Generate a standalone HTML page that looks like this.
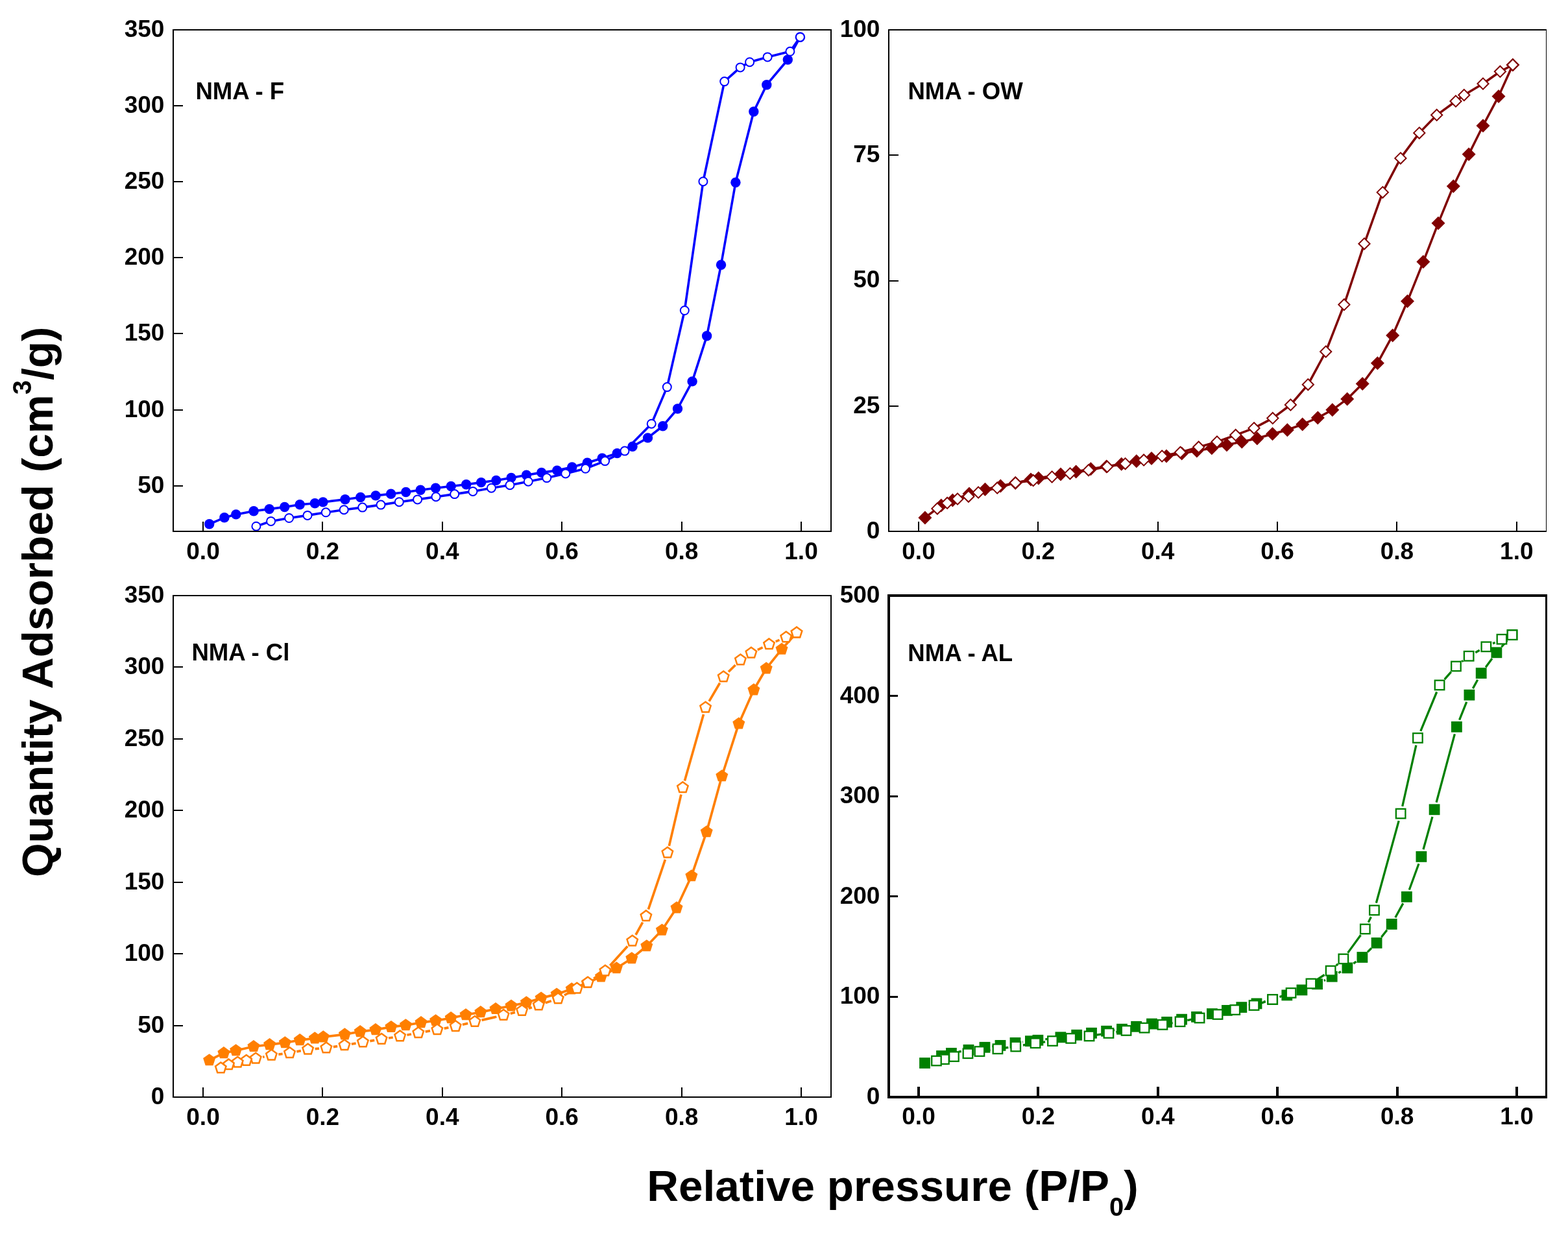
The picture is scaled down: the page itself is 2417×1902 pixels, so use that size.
<!DOCTYPE html><html><head><meta charset="utf-8"><title>Nitrogen adsorption isotherms</title><style>html,body{margin:0;padding:0;background:#fff;overflow:hidden;}svg{display:block;}text{font-family:'Liberation Sans', Arial, Helvetica, sans-serif;font-weight:bold;fill:#000;}</style></head><body>
<svg width="2417" height="1902" viewBox="0 0 2417 1902">
<rect width="2417" height="1902" fill="#fff"/>
<defs><clipPath id="c1"><rect x="268" y="47" width="1012" height="771"/></clipPath><clipPath id="c2"><rect x="1371" y="47" width="1011" height="771"/></clipPath><clipPath id="c3"><rect x="268" y="919" width="1012" height="771"/></clipPath><clipPath id="c4"><rect x="1372" y="920" width="1010" height="769"/></clipPath></defs>
<g fill="#000">
<rect x="266" y="45" width="2" height="775"/>
<rect x="1280" y="45" width="2" height="775"/>
<rect x="266" y="45" width="1016" height="2"/>
<rect x="266" y="818" width="1016" height="2"/>
<rect x="312" y="804" width="2" height="14"/>
<rect x="496" y="804" width="2" height="14"/>
<rect x="681" y="804" width="2" height="14"/>
<rect x="865" y="804" width="2" height="14"/>
<rect x="1050" y="804" width="2" height="14"/>
<rect x="1234" y="804" width="2" height="14"/>
<rect x="268" y="748" width="14" height="2"/>
<rect x="268" y="631" width="14" height="2"/>
<rect x="268" y="513" width="14" height="2"/>
<rect x="268" y="396" width="14" height="2"/>
<rect x="268" y="279" width="14" height="2"/>
<rect x="268" y="162" width="14" height="2"/>
</g>
<text x="313.0" y="861.5" font-size="37" text-anchor="middle">0.0</text>
<text x="497.4" y="861.5" font-size="37" text-anchor="middle">0.2</text>
<text x="681.8" y="861.5" font-size="37" text-anchor="middle">0.4</text>
<text x="866.2" y="861.5" font-size="37" text-anchor="middle">0.6</text>
<text x="1050.6" y="861.5" font-size="37" text-anchor="middle">0.8</text>
<text x="1235.0" y="861.5" font-size="37" text-anchor="middle">1.0</text>
<text x="253.4" y="759.6" font-size="37" text-anchor="end">50</text>
<text x="253.4" y="642.5" font-size="37" text-anchor="end">100</text>
<text x="253.4" y="525.4" font-size="37" text-anchor="end">150</text>
<text x="253.4" y="408.3" font-size="37" text-anchor="end">200</text>
<text x="253.4" y="291.1" font-size="37" text-anchor="end">250</text>
<text x="253.4" y="174.0" font-size="37" text-anchor="end">300</text>
<text x="253.4" y="56.9" font-size="37" text-anchor="end">350</text>
<text x="301.4" y="152.7" font-size="36.6">NMA - F</text>
<g fill="#000">
<rect x="1369" y="45" width="2" height="775"/>
<rect x="2383" y="45" width="1" height="775"/>
<rect x="1369" y="45" width="1015" height="2"/>
<rect x="1369" y="818" width="1015" height="2"/>
<rect x="1415" y="804" width="2" height="14"/>
<rect x="1599" y="804" width="2" height="14"/>
<rect x="1784" y="804" width="2" height="14"/>
<rect x="1968" y="804" width="2" height="14"/>
<rect x="2152" y="804" width="2" height="14"/>
<rect x="2337" y="804" width="2" height="14"/>
<rect x="1371" y="625" width="14" height="2"/>
<rect x="1371" y="432" width="14" height="2"/>
<rect x="1371" y="238" width="14" height="2"/>
</g>
<text x="1416.0" y="861.5" font-size="37" text-anchor="middle">0.0</text>
<text x="1600.3" y="861.5" font-size="37" text-anchor="middle">0.2</text>
<text x="1784.7" y="861.5" font-size="37" text-anchor="middle">0.4</text>
<text x="1969.0" y="861.5" font-size="37" text-anchor="middle">0.6</text>
<text x="2153.4" y="861.5" font-size="37" text-anchor="middle">0.8</text>
<text x="2337.8" y="861.5" font-size="37" text-anchor="middle">1.0</text>
<text x="1356.4" y="829.9" font-size="37" text-anchor="end">0</text>
<text x="1356.4" y="636.6" font-size="37" text-anchor="end">25</text>
<text x="1356.4" y="443.4" font-size="37" text-anchor="end">50</text>
<text x="1356.4" y="250.2" font-size="37" text-anchor="end">75</text>
<text x="1356.4" y="56.9" font-size="37" text-anchor="end">100</text>
<text x="1399.4" y="152.9" font-size="36.6">NMA - OW</text>
<g fill="#000">
<rect x="266" y="917" width="2" height="775"/>
<rect x="1280" y="917" width="2" height="775"/>
<rect x="266" y="917" width="1016" height="2"/>
<rect x="266" y="1690" width="1016" height="2"/>
<rect x="312" y="1676" width="2" height="14"/>
<rect x="496" y="1676" width="2" height="14"/>
<rect x="681" y="1676" width="2" height="14"/>
<rect x="865" y="1676" width="2" height="14"/>
<rect x="1050" y="1676" width="2" height="14"/>
<rect x="1234" y="1676" width="2" height="14"/>
<rect x="268" y="1580" width="14" height="2"/>
<rect x="268" y="1469" width="14" height="2"/>
<rect x="268" y="1359" width="14" height="2"/>
<rect x="268" y="1248" width="14" height="2"/>
<rect x="268" y="1138" width="14" height="2"/>
<rect x="268" y="1027" width="14" height="2"/>
</g>
<text x="313.0" y="1733.5" font-size="37" text-anchor="middle">0.0</text>
<text x="497.4" y="1733.5" font-size="37" text-anchor="middle">0.2</text>
<text x="681.8" y="1733.5" font-size="37" text-anchor="middle">0.4</text>
<text x="866.2" y="1733.5" font-size="37" text-anchor="middle">0.6</text>
<text x="1050.6" y="1733.5" font-size="37" text-anchor="middle">0.8</text>
<text x="1235.0" y="1733.5" font-size="37" text-anchor="middle">1.0</text>
<text x="253.4" y="1701.9" font-size="37" text-anchor="end">0</text>
<text x="253.4" y="1591.5" font-size="37" text-anchor="end">50</text>
<text x="253.4" y="1481.0" font-size="37" text-anchor="end">100</text>
<text x="253.4" y="1370.6" font-size="37" text-anchor="end">150</text>
<text x="253.4" y="1260.2" font-size="37" text-anchor="end">200</text>
<text x="253.4" y="1149.8" font-size="37" text-anchor="end">250</text>
<text x="253.4" y="1039.3" font-size="37" text-anchor="end">300</text>
<text x="253.4" y="928.9" font-size="37" text-anchor="end">350</text>
<text x="295.4" y="1017.8" font-size="36.6">NMA - Cl</text>
<g fill="#000">
<rect x="1368" y="916" width="4" height="777"/>
<rect x="2382" y="916" width="3" height="777"/>
<rect x="1368" y="916" width="1017" height="4"/>
<rect x="1368" y="1689" width="1017" height="4"/>
<rect x="1414" y="1675" width="4" height="14"/>
<rect x="1598" y="1675" width="4" height="14"/>
<rect x="1783" y="1675" width="4" height="14"/>
<rect x="1967" y="1675" width="4" height="14"/>
<rect x="2152" y="1675" width="4" height="14"/>
<rect x="2336" y="1675" width="4" height="14"/>
<rect x="1372" y="1535" width="12" height="3"/>
<rect x="1372" y="1380" width="12" height="3"/>
<rect x="1372" y="1226" width="12" height="3"/>
<rect x="1372" y="1071" width="12" height="3"/>
</g>
<text x="1416.0" y="1732.5" font-size="37" text-anchor="middle">0.0</text>
<text x="1600.4" y="1732.5" font-size="37" text-anchor="middle">0.2</text>
<text x="1784.8" y="1732.5" font-size="37" text-anchor="middle">0.4</text>
<text x="1969.2" y="1732.5" font-size="37" text-anchor="middle">0.6</text>
<text x="2153.6" y="1732.5" font-size="37" text-anchor="middle">0.8</text>
<text x="2338.0" y="1732.5" font-size="37" text-anchor="middle">1.0</text>
<text x="1356.4" y="1701.9" font-size="37" text-anchor="end">0</text>
<text x="1356.4" y="1547.3" font-size="37" text-anchor="end">100</text>
<text x="1356.4" y="1392.7" font-size="37" text-anchor="end">200</text>
<text x="1356.4" y="1238.1" font-size="37" text-anchor="end">300</text>
<text x="1356.4" y="1083.5" font-size="37" text-anchor="end">400</text>
<text x="1356.4" y="928.9" font-size="37" text-anchor="end">500</text>
<text x="1399.3" y="1018.9" font-size="36.6">NMA - AL</text>
<g clip-path="url(#c1)">
<polyline points="322.7,807.8 345.9,797.8 363.8,792.9 391.1,787.7 415.2,784.6 438.7,781.5 462.2,777.8 485.4,775.7 497.9,773.9 532.0,769.8 555.7,766.5 579.1,763.9 602.6,761.3 625.7,758.5 648.2,755.3 671.5,752.3 695.2,749.5 718.7,746.8 741.7,743.6 764.8,740.4 788.0,736.4 811.5,732.3 834.7,728.4 858.7,725.1 881.8,720.0 905.3,713.3 928.2,706.2 951.3,698.6 975.0,688.2 998.5,674.9 1021.7,656.7 1044.5,630.0 1067.1,587.9 1089.6,517.8 1111.5,408.2 1133.9,281.3 1161.8,172.0 1181.8,130.7 1214.3,92.0 1233.4,57.2" fill="none" stroke="#0000ff" stroke-width="3.6" stroke-linejoin="round"/>
<circle cx="322.7" cy="807.8" r="7.7" fill="#0000ff"/>
<circle cx="345.9" cy="797.8" r="7.7" fill="#0000ff"/>
<circle cx="363.8" cy="792.9" r="7.7" fill="#0000ff"/>
<circle cx="391.1" cy="787.7" r="7.7" fill="#0000ff"/>
<circle cx="415.2" cy="784.6" r="7.7" fill="#0000ff"/>
<circle cx="438.7" cy="781.5" r="7.7" fill="#0000ff"/>
<circle cx="462.2" cy="777.8" r="7.7" fill="#0000ff"/>
<circle cx="485.4" cy="775.7" r="7.7" fill="#0000ff"/>
<circle cx="497.9" cy="773.9" r="7.7" fill="#0000ff"/>
<circle cx="532.0" cy="769.8" r="7.7" fill="#0000ff"/>
<circle cx="555.7" cy="766.5" r="7.7" fill="#0000ff"/>
<circle cx="579.1" cy="763.9" r="7.7" fill="#0000ff"/>
<circle cx="602.6" cy="761.3" r="7.7" fill="#0000ff"/>
<circle cx="625.7" cy="758.5" r="7.7" fill="#0000ff"/>
<circle cx="648.2" cy="755.3" r="7.7" fill="#0000ff"/>
<circle cx="671.5" cy="752.3" r="7.7" fill="#0000ff"/>
<circle cx="695.2" cy="749.5" r="7.7" fill="#0000ff"/>
<circle cx="718.7" cy="746.8" r="7.7" fill="#0000ff"/>
<circle cx="741.7" cy="743.6" r="7.7" fill="#0000ff"/>
<circle cx="764.8" cy="740.4" r="7.7" fill="#0000ff"/>
<circle cx="788.0" cy="736.4" r="7.7" fill="#0000ff"/>
<circle cx="811.5" cy="732.3" r="7.7" fill="#0000ff"/>
<circle cx="834.7" cy="728.4" r="7.7" fill="#0000ff"/>
<circle cx="858.7" cy="725.1" r="7.7" fill="#0000ff"/>
<circle cx="881.8" cy="720.0" r="7.7" fill="#0000ff"/>
<circle cx="905.3" cy="713.3" r="7.7" fill="#0000ff"/>
<circle cx="928.2" cy="706.2" r="7.7" fill="#0000ff"/>
<circle cx="951.3" cy="698.6" r="7.7" fill="#0000ff"/>
<circle cx="975.0" cy="688.2" r="7.7" fill="#0000ff"/>
<circle cx="998.5" cy="674.9" r="7.7" fill="#0000ff"/>
<circle cx="1021.7" cy="656.7" r="7.7" fill="#0000ff"/>
<circle cx="1044.5" cy="630.0" r="7.7" fill="#0000ff"/>
<circle cx="1067.1" cy="587.9" r="7.7" fill="#0000ff"/>
<circle cx="1089.6" cy="517.8" r="7.7" fill="#0000ff"/>
<circle cx="1111.5" cy="408.2" r="7.7" fill="#0000ff"/>
<circle cx="1133.9" cy="281.3" r="7.7" fill="#0000ff"/>
<circle cx="1161.8" cy="172.0" r="7.7" fill="#0000ff"/>
<circle cx="1181.8" cy="130.7" r="7.7" fill="#0000ff"/>
<circle cx="1214.3" cy="92.0" r="7.7" fill="#0000ff"/>
<circle cx="1233.4" cy="57.2" r="7.7" fill="#0000ff"/>
<polyline points="1233.4,57.2 1217.9,79.3 1183.1,87.9 1155.6,95.7 1141.1,103.9 1116.7,125.6 1083.9,279.7 1055.3,478.5 1028.3,596.6 1004.2,653.2 963.0,695.1 932.6,710.6 902.5,722.3 871.8,729.9 842.8,736.6 814.3,742.2 786.0,747.7 757.4,752.2 728.9,757.4 700.7,761.6 672.0,765.7 643.6,769.9 615.3,773.7 587.0,778.1 558.7,782.1 530.2,785.7 502.3,789.8 474.0,794.4 445.6,798.5 417.6,803.4 394.9,811.2" fill="none" stroke="#0000ff" stroke-width="3.6" stroke-linejoin="round"/>
<circle cx="1233.4" cy="57.2" r="6.5" fill="#fff" stroke="#0000ff" stroke-width="2"/>
<circle cx="1217.9" cy="79.3" r="6.5" fill="#fff" stroke="#0000ff" stroke-width="2"/>
<circle cx="1183.1" cy="87.9" r="6.5" fill="#fff" stroke="#0000ff" stroke-width="2"/>
<circle cx="1155.6" cy="95.7" r="6.5" fill="#fff" stroke="#0000ff" stroke-width="2"/>
<circle cx="1141.1" cy="103.9" r="6.5" fill="#fff" stroke="#0000ff" stroke-width="2"/>
<circle cx="1116.7" cy="125.6" r="6.5" fill="#fff" stroke="#0000ff" stroke-width="2"/>
<circle cx="1083.9" cy="279.7" r="6.5" fill="#fff" stroke="#0000ff" stroke-width="2"/>
<circle cx="1055.3" cy="478.5" r="6.5" fill="#fff" stroke="#0000ff" stroke-width="2"/>
<circle cx="1028.3" cy="596.6" r="6.5" fill="#fff" stroke="#0000ff" stroke-width="2"/>
<circle cx="1004.2" cy="653.2" r="6.5" fill="#fff" stroke="#0000ff" stroke-width="2"/>
<circle cx="963.0" cy="695.1" r="6.5" fill="#fff" stroke="#0000ff" stroke-width="2"/>
<circle cx="932.6" cy="710.6" r="6.5" fill="#fff" stroke="#0000ff" stroke-width="2"/>
<circle cx="902.5" cy="722.3" r="6.5" fill="#fff" stroke="#0000ff" stroke-width="2"/>
<circle cx="871.8" cy="729.9" r="6.5" fill="#fff" stroke="#0000ff" stroke-width="2"/>
<circle cx="842.8" cy="736.6" r="6.5" fill="#fff" stroke="#0000ff" stroke-width="2"/>
<circle cx="814.3" cy="742.2" r="6.5" fill="#fff" stroke="#0000ff" stroke-width="2"/>
<circle cx="786.0" cy="747.7" r="6.5" fill="#fff" stroke="#0000ff" stroke-width="2"/>
<circle cx="757.4" cy="752.2" r="6.5" fill="#fff" stroke="#0000ff" stroke-width="2"/>
<circle cx="728.9" cy="757.4" r="6.5" fill="#fff" stroke="#0000ff" stroke-width="2"/>
<circle cx="700.7" cy="761.6" r="6.5" fill="#fff" stroke="#0000ff" stroke-width="2"/>
<circle cx="672.0" cy="765.7" r="6.5" fill="#fff" stroke="#0000ff" stroke-width="2"/>
<circle cx="643.6" cy="769.9" r="6.5" fill="#fff" stroke="#0000ff" stroke-width="2"/>
<circle cx="615.3" cy="773.7" r="6.5" fill="#fff" stroke="#0000ff" stroke-width="2"/>
<circle cx="587.0" cy="778.1" r="6.5" fill="#fff" stroke="#0000ff" stroke-width="2"/>
<circle cx="558.7" cy="782.1" r="6.5" fill="#fff" stroke="#0000ff" stroke-width="2"/>
<circle cx="530.2" cy="785.7" r="6.5" fill="#fff" stroke="#0000ff" stroke-width="2"/>
<circle cx="502.3" cy="789.8" r="6.5" fill="#fff" stroke="#0000ff" stroke-width="2"/>
<circle cx="474.0" cy="794.4" r="6.5" fill="#fff" stroke="#0000ff" stroke-width="2"/>
<circle cx="445.6" cy="798.5" r="6.5" fill="#fff" stroke="#0000ff" stroke-width="2"/>
<circle cx="417.6" cy="803.4" r="6.5" fill="#fff" stroke="#0000ff" stroke-width="2"/>
<circle cx="394.9" cy="811.2" r="6.5" fill="#fff" stroke="#0000ff" stroke-width="2"/>
</g>
<g clip-path="url(#c2)">
<polyline points="1425.9,797.9 1450.8,779.1 1468.4,771.1 1494.0,761.1 1518.5,754.3 1542.3,749.0 1565.2,744.5 1589.0,739.0 1600.8,737.0 1635.0,731.0 1658.6,726.9 1681.4,722.8 1705.6,719.0 1728.7,715.2 1751.8,710.7 1775.0,706.5 1798.0,703.0 1821.7,699.0 1844.9,694.9 1867.9,690.8 1891.0,685.8 1914.3,680.9 1937.8,675.7 1961.5,668.8 1984.4,662.7 2007.7,654.0 2031.3,643.9 2053.8,631.8 2076.7,614.9 2100.2,591.4 2123.4,559.7 2146.7,516.9 2169.5,464.3 2193.9,403.6 2217.0,343.9 2240.3,286.9 2264.1,237.7 2286.0,193.8 2310.0,148.4 2331.9,100.0" fill="none" stroke="#800000" stroke-width="3.5" stroke-linejoin="round"/>
<path d="M1425.9 787.4L1436.4 797.9L1425.9 808.4L1415.4 797.9Z" fill="#800000"/>
<path d="M1450.8 768.6L1461.3 779.1L1450.8 789.6L1440.3 779.1Z" fill="#800000"/>
<path d="M1468.4 760.6L1478.9 771.1L1468.4 781.6L1457.9 771.1Z" fill="#800000"/>
<path d="M1494.0 750.6L1504.5 761.1L1494.0 771.6L1483.5 761.1Z" fill="#800000"/>
<path d="M1518.5 743.8L1529.0 754.3L1518.5 764.8L1508.0 754.3Z" fill="#800000"/>
<path d="M1542.3 738.5L1552.8 749.0L1542.3 759.5L1531.8 749.0Z" fill="#800000"/>
<path d="M1565.2 734.0L1575.7 744.5L1565.2 755.0L1554.7 744.5Z" fill="#800000"/>
<path d="M1589.0 728.5L1599.5 739.0L1589.0 749.5L1578.5 739.0Z" fill="#800000"/>
<path d="M1600.8 726.5L1611.3 737.0L1600.8 747.5L1590.3 737.0Z" fill="#800000"/>
<path d="M1635.0 720.5L1645.5 731.0L1635.0 741.5L1624.5 731.0Z" fill="#800000"/>
<path d="M1658.6 716.4L1669.1 726.9L1658.6 737.4L1648.1 726.9Z" fill="#800000"/>
<path d="M1681.4 712.3L1691.9 722.8L1681.4 733.3L1670.9 722.8Z" fill="#800000"/>
<path d="M1705.6 708.5L1716.1 719.0L1705.6 729.5L1695.1 719.0Z" fill="#800000"/>
<path d="M1728.7 704.7L1739.2 715.2L1728.7 725.7L1718.2 715.2Z" fill="#800000"/>
<path d="M1751.8 700.2L1762.3 710.7L1751.8 721.2L1741.3 710.7Z" fill="#800000"/>
<path d="M1775.0 696.0L1785.5 706.5L1775.0 717.0L1764.5 706.5Z" fill="#800000"/>
<path d="M1798.0 692.5L1808.5 703.0L1798.0 713.5L1787.5 703.0Z" fill="#800000"/>
<path d="M1821.7 688.5L1832.2 699.0L1821.7 709.5L1811.2 699.0Z" fill="#800000"/>
<path d="M1844.9 684.4L1855.4 694.9L1844.9 705.4L1834.4 694.9Z" fill="#800000"/>
<path d="M1867.9 680.3L1878.4 690.8L1867.9 701.3L1857.4 690.8Z" fill="#800000"/>
<path d="M1891.0 675.3L1901.5 685.8L1891.0 696.3L1880.5 685.8Z" fill="#800000"/>
<path d="M1914.3 670.4L1924.8 680.9L1914.3 691.4L1903.8 680.9Z" fill="#800000"/>
<path d="M1937.8 665.2L1948.3 675.7L1937.8 686.2L1927.3 675.7Z" fill="#800000"/>
<path d="M1961.5 658.3L1972.0 668.8L1961.5 679.3L1951.0 668.8Z" fill="#800000"/>
<path d="M1984.4 652.2L1994.9 662.7L1984.4 673.2L1973.9 662.7Z" fill="#800000"/>
<path d="M2007.7 643.5L2018.2 654.0L2007.7 664.5L1997.2 654.0Z" fill="#800000"/>
<path d="M2031.3 633.4L2041.8 643.9L2031.3 654.4L2020.8 643.9Z" fill="#800000"/>
<path d="M2053.8 621.3L2064.3 631.8L2053.8 642.3L2043.3 631.8Z" fill="#800000"/>
<path d="M2076.7 604.4L2087.2 614.9L2076.7 625.4L2066.2 614.9Z" fill="#800000"/>
<path d="M2100.2 580.9L2110.7 591.4L2100.2 601.9L2089.7 591.4Z" fill="#800000"/>
<path d="M2123.4 549.2L2133.9 559.7L2123.4 570.2L2112.9 559.7Z" fill="#800000"/>
<path d="M2146.7 506.4L2157.2 516.9L2146.7 527.4L2136.2 516.9Z" fill="#800000"/>
<path d="M2169.5 453.8L2180.0 464.3L2169.5 474.8L2159.0 464.3Z" fill="#800000"/>
<path d="M2193.9 393.1L2204.4 403.6L2193.9 414.1L2183.4 403.6Z" fill="#800000"/>
<path d="M2217.0 333.4L2227.5 343.9L2217.0 354.4L2206.5 343.9Z" fill="#800000"/>
<path d="M2240.3 276.4L2250.8 286.9L2240.3 297.4L2229.8 286.9Z" fill="#800000"/>
<path d="M2264.1 227.2L2274.6 237.7L2264.1 248.2L2253.6 237.7Z" fill="#800000"/>
<path d="M2286.0 183.3L2296.5 193.8L2286.0 204.3L2275.5 193.8Z" fill="#800000"/>
<path d="M2310.0 137.9L2320.5 148.4L2310.0 158.9L2299.5 148.4Z" fill="#800000"/>
<path d="M2331.9 89.5L2342.4 100.0L2331.9 110.5L2321.4 100.0Z" fill="#800000"/>
<polyline points="2331.9,100.0 2312.4,110.3 2286.0,129.0 2256.8,146.5 2244.0,156.0 2214.7,177.3 2187.8,204.9 2158.9,243.9 2131.3,296.4 2103.0,375.7 2071.9,469.6 2043.7,542.0 2016.3,592.7 1989.4,624.0 1961.8,644.6 1933.0,659.9 1904.7,670.6 1876.0,681.0 1847.7,689.1 1819.5,697.2 1791.2,703.0 1763.1,709.1 1734.6,714.7 1706.7,719.3 1678.0,724.7 1649.4,729.9 1621.6,735.0 1592.7,740.6 1565.3,744.1 1537.2,752.1 1508.1,759.0 1492.9,765.2 1476.0,769.0 1460.1,775.3 1444.9,783.9" fill="none" stroke="#800000" stroke-width="3.5" stroke-linejoin="round"/>
<path d="M2331.9 91.4L2340.5 100.0L2331.9 108.6L2323.3 100.0Z" fill="#fff" stroke="#800000" stroke-width="2"/>
<path d="M2312.4 101.7L2321.0 110.3L2312.4 118.9L2303.8 110.3Z" fill="#fff" stroke="#800000" stroke-width="2"/>
<path d="M2286.0 120.4L2294.6 129.0L2286.0 137.6L2277.4 129.0Z" fill="#fff" stroke="#800000" stroke-width="2"/>
<path d="M2256.8 137.9L2265.4 146.5L2256.8 155.1L2248.2 146.5Z" fill="#fff" stroke="#800000" stroke-width="2"/>
<path d="M2244.0 147.4L2252.6 156.0L2244.0 164.6L2235.4 156.0Z" fill="#fff" stroke="#800000" stroke-width="2"/>
<path d="M2214.7 168.7L2223.3 177.3L2214.7 185.9L2206.1 177.3Z" fill="#fff" stroke="#800000" stroke-width="2"/>
<path d="M2187.8 196.3L2196.4 204.9L2187.8 213.5L2179.2 204.9Z" fill="#fff" stroke="#800000" stroke-width="2"/>
<path d="M2158.9 235.3L2167.5 243.9L2158.9 252.5L2150.3 243.9Z" fill="#fff" stroke="#800000" stroke-width="2"/>
<path d="M2131.3 287.8L2139.9 296.4L2131.3 305.0L2122.7 296.4Z" fill="#fff" stroke="#800000" stroke-width="2"/>
<path d="M2103.0 367.1L2111.6 375.7L2103.0 384.3L2094.4 375.7Z" fill="#fff" stroke="#800000" stroke-width="2"/>
<path d="M2071.9 461.0L2080.5 469.6L2071.9 478.2L2063.3 469.6Z" fill="#fff" stroke="#800000" stroke-width="2"/>
<path d="M2043.7 533.4L2052.3 542.0L2043.7 550.6L2035.1 542.0Z" fill="#fff" stroke="#800000" stroke-width="2"/>
<path d="M2016.3 584.1L2024.9 592.7L2016.3 601.3L2007.7 592.7Z" fill="#fff" stroke="#800000" stroke-width="2"/>
<path d="M1989.4 615.4L1998.0 624.0L1989.4 632.6L1980.8 624.0Z" fill="#fff" stroke="#800000" stroke-width="2"/>
<path d="M1961.8 636.0L1970.4 644.6L1961.8 653.2L1953.2 644.6Z" fill="#fff" stroke="#800000" stroke-width="2"/>
<path d="M1933.0 651.3L1941.6 659.9L1933.0 668.5L1924.4 659.9Z" fill="#fff" stroke="#800000" stroke-width="2"/>
<path d="M1904.7 662.0L1913.3 670.6L1904.7 679.2L1896.1 670.6Z" fill="#fff" stroke="#800000" stroke-width="2"/>
<path d="M1876.0 672.4L1884.6 681.0L1876.0 689.6L1867.4 681.0Z" fill="#fff" stroke="#800000" stroke-width="2"/>
<path d="M1847.7 680.5L1856.3 689.1L1847.7 697.7L1839.1 689.1Z" fill="#fff" stroke="#800000" stroke-width="2"/>
<path d="M1819.5 688.6L1828.1 697.2L1819.5 705.8L1810.9 697.2Z" fill="#fff" stroke="#800000" stroke-width="2"/>
<path d="M1791.2 694.4L1799.8 703.0L1791.2 711.6L1782.6 703.0Z" fill="#fff" stroke="#800000" stroke-width="2"/>
<path d="M1763.1 700.5L1771.7 709.1L1763.1 717.7L1754.5 709.1Z" fill="#fff" stroke="#800000" stroke-width="2"/>
<path d="M1734.6 706.1L1743.2 714.7L1734.6 723.3L1726.0 714.7Z" fill="#fff" stroke="#800000" stroke-width="2"/>
<path d="M1706.7 710.7L1715.3 719.3L1706.7 727.9L1698.1 719.3Z" fill="#fff" stroke="#800000" stroke-width="2"/>
<path d="M1678.0 716.1L1686.6 724.7L1678.0 733.3L1669.4 724.7Z" fill="#fff" stroke="#800000" stroke-width="2"/>
<path d="M1649.4 721.3L1658.0 729.9L1649.4 738.5L1640.8 729.9Z" fill="#fff" stroke="#800000" stroke-width="2"/>
<path d="M1621.6 726.4L1630.2 735.0L1621.6 743.6L1613.0 735.0Z" fill="#fff" stroke="#800000" stroke-width="2"/>
<path d="M1592.7 732.0L1601.3 740.6L1592.7 749.2L1584.1 740.6Z" fill="#fff" stroke="#800000" stroke-width="2"/>
<path d="M1565.3 735.5L1573.9 744.1L1565.3 752.7L1556.7 744.1Z" fill="#fff" stroke="#800000" stroke-width="2"/>
<path d="M1537.2 743.5L1545.8 752.1L1537.2 760.7L1528.6 752.1Z" fill="#fff" stroke="#800000" stroke-width="2"/>
<path d="M1508.1 750.4L1516.7 759.0L1508.1 767.6L1499.5 759.0Z" fill="#fff" stroke="#800000" stroke-width="2"/>
<path d="M1492.9 756.6L1501.5 765.2L1492.9 773.8L1484.3 765.2Z" fill="#fff" stroke="#800000" stroke-width="2"/>
<path d="M1476.0 760.4L1484.6 769.0L1476.0 777.6L1467.4 769.0Z" fill="#fff" stroke="#800000" stroke-width="2"/>
<path d="M1460.1 766.7L1468.7 775.3L1460.1 783.9L1451.5 775.3Z" fill="#fff" stroke="#800000" stroke-width="2"/>
<path d="M1444.9 775.3L1453.5 783.9L1444.9 792.5L1436.3 783.9Z" fill="#fff" stroke="#800000" stroke-width="2"/>
</g>
<g clip-path="url(#c3)">
<polyline points="322.6,1634.2 344.9,1623.1 363.6,1619.2 390.9,1613.0 415.6,1610.1 439.3,1607.2 462.2,1603.1 485.3,1600.3 498.3,1598.3 531.4,1594.3 555.2,1590.1 578.9,1587.1 602.9,1582.9 625.4,1580.2 649.0,1576.1 671.6,1573.2 695.1,1569.1 718.0,1564.2 740.9,1560.1 764.0,1555.0 788.0,1550.4 811.4,1545.2 834.1,1538.4 858.1,1532.4 881.2,1524.3 905.3,1515.0 926.5,1505.4 950.3,1492.2 973.8,1477.2 996.8,1458.2 1020.4,1433.7 1043.0,1399.3 1065.9,1350.2 1089.2,1282.2 1112.8,1196.2 1138.8,1115.4 1161.9,1063.3 1181.2,1030.3 1205.0,1000.7 1228.0,975.3" fill="none" stroke="#ff7f00" stroke-width="3.7" stroke-linejoin="round"/>
<polygon points="322.6,1624.2 332.1,1631.1 328.5,1642.3 316.7,1642.3 313.1,1631.1" fill="#ff7f00"/>
<polygon points="344.9,1613.1 354.4,1620.0 350.8,1631.2 339.0,1631.2 335.4,1620.0" fill="#ff7f00"/>
<polygon points="363.6,1609.2 373.1,1616.1 369.5,1627.3 357.7,1627.3 354.1,1616.1" fill="#ff7f00"/>
<polygon points="390.9,1603.0 400.4,1609.9 396.8,1621.1 385.0,1621.1 381.4,1609.9" fill="#ff7f00"/>
<polygon points="415.6,1600.1 425.1,1607.0 421.5,1618.2 409.7,1618.2 406.1,1607.0" fill="#ff7f00"/>
<polygon points="439.3,1597.2 448.8,1604.1 445.2,1615.3 433.4,1615.3 429.8,1604.1" fill="#ff7f00"/>
<polygon points="462.2,1593.1 471.7,1600.0 468.1,1611.2 456.3,1611.2 452.7,1600.0" fill="#ff7f00"/>
<polygon points="485.3,1590.3 494.8,1597.2 491.2,1608.4 479.4,1608.4 475.8,1597.2" fill="#ff7f00"/>
<polygon points="498.3,1588.3 507.8,1595.2 504.2,1606.4 492.4,1606.4 488.8,1595.2" fill="#ff7f00"/>
<polygon points="531.4,1584.3 540.9,1591.2 537.3,1602.4 525.5,1602.4 521.9,1591.2" fill="#ff7f00"/>
<polygon points="555.2,1580.1 564.7,1587.0 561.1,1598.2 549.3,1598.2 545.7,1587.0" fill="#ff7f00"/>
<polygon points="578.9,1577.1 588.4,1584.0 584.8,1595.2 573.0,1595.2 569.4,1584.0" fill="#ff7f00"/>
<polygon points="602.9,1572.9 612.4,1579.8 608.8,1591.0 597.0,1591.0 593.4,1579.8" fill="#ff7f00"/>
<polygon points="625.4,1570.2 634.9,1577.1 631.3,1588.3 619.5,1588.3 615.9,1577.1" fill="#ff7f00"/>
<polygon points="649.0,1566.1 658.5,1573.0 654.9,1584.2 643.1,1584.2 639.5,1573.0" fill="#ff7f00"/>
<polygon points="671.6,1563.2 681.1,1570.1 677.5,1581.3 665.7,1581.3 662.1,1570.1" fill="#ff7f00"/>
<polygon points="695.1,1559.1 704.6,1566.0 701.0,1577.2 689.2,1577.2 685.6,1566.0" fill="#ff7f00"/>
<polygon points="718.0,1554.2 727.5,1561.1 723.9,1572.3 712.1,1572.3 708.5,1561.1" fill="#ff7f00"/>
<polygon points="740.9,1550.1 750.4,1557.0 746.8,1568.2 735.0,1568.2 731.4,1557.0" fill="#ff7f00"/>
<polygon points="764.0,1545.0 773.5,1551.9 769.9,1563.1 758.1,1563.1 754.5,1551.9" fill="#ff7f00"/>
<polygon points="788.0,1540.4 797.5,1547.3 793.9,1558.5 782.1,1558.5 778.5,1547.3" fill="#ff7f00"/>
<polygon points="811.4,1535.2 820.9,1542.1 817.3,1553.3 805.5,1553.3 801.9,1542.1" fill="#ff7f00"/>
<polygon points="834.1,1528.4 843.6,1535.3 840.0,1546.5 828.2,1546.5 824.6,1535.3" fill="#ff7f00"/>
<polygon points="858.1,1522.4 867.6,1529.3 864.0,1540.5 852.2,1540.5 848.6,1529.3" fill="#ff7f00"/>
<polygon points="881.2,1514.3 890.7,1521.2 887.1,1532.4 875.3,1532.4 871.7,1521.2" fill="#ff7f00"/>
<polygon points="905.3,1505.0 914.8,1511.9 911.2,1523.1 899.4,1523.1 895.8,1511.9" fill="#ff7f00"/>
<polygon points="926.5,1495.4 936.0,1502.3 932.4,1513.5 920.6,1513.5 917.0,1502.3" fill="#ff7f00"/>
<polygon points="950.3,1482.2 959.8,1489.1 956.2,1500.3 944.4,1500.3 940.8,1489.1" fill="#ff7f00"/>
<polygon points="973.8,1467.2 983.3,1474.1 979.7,1485.3 967.9,1485.3 964.3,1474.1" fill="#ff7f00"/>
<polygon points="996.8,1448.2 1006.3,1455.1 1002.7,1466.3 990.9,1466.3 987.3,1455.1" fill="#ff7f00"/>
<polygon points="1020.4,1423.7 1029.9,1430.6 1026.3,1441.8 1014.5,1441.8 1010.9,1430.6" fill="#ff7f00"/>
<polygon points="1043.0,1389.3 1052.5,1396.2 1048.9,1407.4 1037.1,1407.4 1033.5,1396.2" fill="#ff7f00"/>
<polygon points="1065.9,1340.2 1075.4,1347.1 1071.8,1358.3 1060.0,1358.3 1056.4,1347.1" fill="#ff7f00"/>
<polygon points="1089.2,1272.2 1098.7,1279.1 1095.1,1290.3 1083.3,1290.3 1079.7,1279.1" fill="#ff7f00"/>
<polygon points="1112.8,1186.2 1122.3,1193.1 1118.7,1204.3 1106.9,1204.3 1103.3,1193.1" fill="#ff7f00"/>
<polygon points="1138.8,1105.4 1148.3,1112.3 1144.7,1123.5 1132.9,1123.5 1129.3,1112.3" fill="#ff7f00"/>
<polygon points="1161.9,1053.3 1171.4,1060.2 1167.8,1071.4 1156.0,1071.4 1152.4,1060.2" fill="#ff7f00"/>
<polygon points="1181.2,1020.3 1190.7,1027.2 1187.1,1038.4 1175.3,1038.4 1171.7,1027.2" fill="#ff7f00"/>
<polygon points="1205.0,990.7 1214.5,997.6 1210.9,1008.8 1199.1,1008.8 1195.5,997.6" fill="#ff7f00"/>
<polygon points="1228.0,965.3 1237.5,972.2 1233.9,983.4 1222.1,983.4 1218.5,972.2" fill="#ff7f00"/>
<path d="M1201.5 986.4L1195.7 988.9M1175.6 997.9L1167.8 1001.6M1133.6 1025.0L1123.0 1035.5M1109.6 1052.8L1093.1 1080.9M1084.5 1101.0L1055.4 1203.4M1049.9 1224.7L1031.4 1303.8M1025.4 1324.9L999.4 1401.7M990.6 1421.7L980.0 1440.9M967.3 1458.6L940.3 1488.3M923.8 1502.6L915.2 1508.3M879.6 1528.7L869.9 1534.0M849.8 1542.7L840.7 1545.7M819.9 1552.7L815.0 1554.3M793.9 1560.4L786.8 1562.2M765.4 1567.2L742.6 1572.4M721.2 1577.4L712.9 1579.3M691.4 1583.9L684.7 1585.1M663.0 1588.9L655.7 1590.1M634.0 1594.0L627.4 1595.2M605.7 1599.0L599.0 1600.0M577.2 1603.4L570.3 1604.6M548.6 1608.1L541.8 1609.3M520.1 1612.7L513.8 1613.7M491.9 1616.2L485.6 1616.6M463.8 1619.6L457.3 1620.9M435.6 1624.3L429.3 1625.1M407.6 1628.7L405.0 1629.2" fill="none" stroke="#ff7f00" stroke-width="3.7"/>
<polygon points="1228.0,966.6 1236.2,972.6 1233.1,982.3 1222.9,982.3 1219.8,972.6" fill="#fff" stroke="#ff7f00" stroke-width="2.5"/>
<polygon points="1211.7,973.5 1219.9,979.5 1216.8,989.2 1206.6,989.2 1203.5,979.5" fill="#fff" stroke="#ff7f00" stroke-width="2.5"/>
<polygon points="1185.5,984.4 1193.7,990.4 1190.6,1000.1 1180.4,1000.1 1177.3,990.4" fill="#fff" stroke="#ff7f00" stroke-width="2.5"/>
<polygon points="1157.9,997.7 1166.1,1003.7 1163.0,1013.4 1152.8,1013.4 1149.7,1003.7" fill="#fff" stroke="#ff7f00" stroke-width="2.5"/>
<polygon points="1141.4,1008.5 1149.6,1014.5 1146.5,1024.2 1136.3,1024.2 1133.2,1014.5" fill="#fff" stroke="#ff7f00" stroke-width="2.5"/>
<polygon points="1115.2,1034.6 1123.4,1040.6 1120.3,1050.3 1110.1,1050.3 1107.0,1040.6" fill="#fff" stroke="#ff7f00" stroke-width="2.5"/>
<polygon points="1087.5,1081.7 1095.7,1087.7 1092.6,1097.4 1082.4,1097.4 1079.3,1087.7" fill="#fff" stroke="#ff7f00" stroke-width="2.5"/>
<polygon points="1052.4,1205.3 1060.6,1211.3 1057.5,1221.0 1047.3,1221.0 1044.2,1211.3" fill="#fff" stroke="#ff7f00" stroke-width="2.5"/>
<polygon points="1028.9,1305.8 1037.1,1311.8 1034.0,1321.5 1023.8,1321.5 1020.7,1311.8" fill="#fff" stroke="#ff7f00" stroke-width="2.5"/>
<polygon points="995.9,1403.4 1004.1,1409.4 1001.0,1419.1 990.8,1419.1 987.7,1409.4" fill="#fff" stroke="#ff7f00" stroke-width="2.5"/>
<polygon points="974.7,1441.8 982.9,1447.8 979.8,1457.5 969.6,1457.5 966.5,1447.8" fill="#fff" stroke="#ff7f00" stroke-width="2.5"/>
<polygon points="932.9,1487.7 941.1,1493.7 938.0,1503.4 927.8,1503.4 924.7,1493.7" fill="#fff" stroke="#ff7f00" stroke-width="2.5"/>
<polygon points="906.1,1505.8 914.3,1511.8 911.2,1521.5 901.0,1521.5 897.9,1511.8" fill="#fff" stroke="#ff7f00" stroke-width="2.5"/>
<polygon points="889.3,1514.8 897.5,1520.8 894.4,1530.5 884.2,1530.5 881.1,1520.8" fill="#fff" stroke="#ff7f00" stroke-width="2.5"/>
<polygon points="860.2,1530.5 868.4,1536.5 865.3,1546.2 855.1,1546.2 852.0,1536.5" fill="#fff" stroke="#ff7f00" stroke-width="2.5"/>
<polygon points="830.3,1540.5 838.5,1546.5 835.4,1556.2 825.2,1556.2 822.1,1546.5" fill="#fff" stroke="#ff7f00" stroke-width="2.5"/>
<polygon points="804.6,1549.1 812.8,1555.1 809.7,1564.8 799.5,1564.8 796.4,1555.1" fill="#fff" stroke="#ff7f00" stroke-width="2.5"/>
<polygon points="776.1,1556.1 784.3,1562.1 781.2,1571.8 771.0,1571.8 767.9,1562.1" fill="#fff" stroke="#ff7f00" stroke-width="2.5"/>
<polygon points="731.9,1566.1 740.1,1572.1 737.0,1581.8 726.8,1581.8 723.7,1572.1" fill="#fff" stroke="#ff7f00" stroke-width="2.5"/>
<polygon points="702.2,1573.2 710.4,1579.2 707.3,1588.9 697.1,1588.9 694.0,1579.2" fill="#fff" stroke="#ff7f00" stroke-width="2.5"/>
<polygon points="673.9,1578.4 682.1,1584.4 679.0,1594.1 668.8,1594.1 665.7,1584.4" fill="#fff" stroke="#ff7f00" stroke-width="2.5"/>
<polygon points="644.8,1583.2 653.0,1589.2 649.9,1598.9 639.7,1598.9 636.6,1589.2" fill="#fff" stroke="#ff7f00" stroke-width="2.5"/>
<polygon points="616.6,1588.6 624.8,1594.6 621.7,1604.3 611.5,1604.3 608.4,1594.6" fill="#fff" stroke="#ff7f00" stroke-width="2.5"/>
<polygon points="588.1,1593.0 596.3,1599.0 593.2,1608.7 583.0,1608.7 579.9,1599.0" fill="#fff" stroke="#ff7f00" stroke-width="2.5"/>
<polygon points="559.4,1597.6 567.6,1603.6 564.5,1613.3 554.3,1613.3 551.2,1603.6" fill="#fff" stroke="#ff7f00" stroke-width="2.5"/>
<polygon points="531.0,1602.4 539.2,1608.4 536.1,1618.1 525.9,1618.1 522.8,1608.4" fill="#fff" stroke="#ff7f00" stroke-width="2.5"/>
<polygon points="502.9,1606.6 511.1,1612.6 508.0,1622.3 497.8,1622.3 494.7,1612.6" fill="#fff" stroke="#ff7f00" stroke-width="2.5"/>
<polygon points="474.6,1608.8 482.8,1614.8 479.7,1624.5 469.5,1624.5 466.4,1614.8" fill="#fff" stroke="#ff7f00" stroke-width="2.5"/>
<polygon points="446.5,1614.3 454.7,1620.3 451.6,1630.0 441.4,1630.0 438.3,1620.3" fill="#fff" stroke="#ff7f00" stroke-width="2.5"/>
<polygon points="418.4,1617.7 426.6,1623.7 423.5,1633.4 413.3,1633.4 410.2,1623.7" fill="#fff" stroke="#ff7f00" stroke-width="2.5"/>
<polygon points="394.2,1622.8 402.4,1628.8 399.3,1638.5 389.1,1638.5 386.0,1628.8" fill="#fff" stroke="#ff7f00" stroke-width="2.5"/>
<polygon points="379.7,1626.0 387.9,1632.0 384.8,1641.7 374.6,1641.7 371.5,1632.0" fill="#fff" stroke="#ff7f00" stroke-width="2.5"/>
<polygon points="366.3,1628.7 374.5,1634.7 371.4,1644.4 361.2,1644.4 358.1,1634.7" fill="#fff" stroke="#ff7f00" stroke-width="2.5"/>
<polygon points="352.5,1632.4 360.7,1638.4 357.6,1648.1 347.4,1648.1 344.3,1638.4" fill="#fff" stroke="#ff7f00" stroke-width="2.5"/>
<polygon points="340.3,1637.5 348.5,1643.5 345.4,1653.2 335.2,1653.2 332.1,1643.5" fill="#fff" stroke="#ff7f00" stroke-width="2.5"/>
</g>
<g clip-path="url(#c4)">
<path d="M1436.1 1634.0L1440.9 1632.0M1477.7 1621.2L1481.7 1620.5M1504.4 1616.5L1506.6 1616.1M1529.4 1612.9L1530.6 1612.8M1576.4 1606.1L1577.0 1606.0M1611.3 1601.8L1623.5 1600.3M1646.3 1597.2L1648.3 1596.9M1717.0 1587.9L1718.1 1587.7M1762.9 1580.3L1764.2 1580.1M1855.8 1565.1L1857.1 1564.9M1879.6 1560.1L1880.2 1559.9M1925.0 1549.9L1925.8 1549.6M1948.1 1544.0L1950.6 1543.4M1994.7 1530.1L1996.0 1529.7M2017.6 1521.8L2019.9 1520.9M2040.8 1511.5L2043.0 1510.5M2063.2 1499.6L2066.9 1497.5M2086.3 1485.2L2090.5 1482.2M2108.1 1467.4L2113.9 1461.5M2129.3 1444.4L2138.0 1433.4M2150.8 1414.3L2162.8 1392.4M2172.3 1371.5L2187.0 1331.2M2194.0 1309.3L2208.0 1258.9M2214.1 1236.7L2242.4 1131.4M2249.6 1109.6L2260.7 1081.9M2270.4 1061.1L2277.7 1047.7M2290.1 1028.4L2300.0 1015.0M2314.5 997.2L2323.4 987.2" fill="none" stroke="#008000" stroke-width="3.3"/>
<rect x="1417.1" y="1630.1" width="16.8" height="16.8" fill="#008000"/>
<rect x="1443.1" y="1619.1" width="16.8" height="16.8" fill="#008000"/>
<rect x="1458.0" y="1615.0" width="16.8" height="16.8" fill="#008000"/>
<rect x="1484.6" y="1609.9" width="16.8" height="16.8" fill="#008000"/>
<rect x="1509.6" y="1605.9" width="16.8" height="16.8" fill="#008000"/>
<rect x="1533.6" y="1603.0" width="16.8" height="16.8" fill="#008000"/>
<rect x="1556.6" y="1599.0" width="16.8" height="16.8" fill="#008000"/>
<rect x="1580.0" y="1596.3" width="16.8" height="16.8" fill="#008000"/>
<rect x="1591.5" y="1594.9" width="16.8" height="16.8" fill="#008000"/>
<rect x="1626.5" y="1590.4" width="16.8" height="16.8" fill="#008000"/>
<rect x="1651.3" y="1586.9" width="16.8" height="16.8" fill="#008000"/>
<rect x="1674.1" y="1583.9" width="16.8" height="16.8" fill="#008000"/>
<rect x="1697.2" y="1580.9" width="16.8" height="16.8" fill="#008000"/>
<rect x="1721.1" y="1577.9" width="16.8" height="16.8" fill="#008000"/>
<rect x="1743.2" y="1573.9" width="16.8" height="16.8" fill="#008000"/>
<rect x="1767.1" y="1569.7" width="16.8" height="16.8" fill="#008000"/>
<rect x="1790.2" y="1567.0" width="16.8" height="16.8" fill="#008000"/>
<rect x="1813.2" y="1562.8" width="16.8" height="16.8" fill="#008000"/>
<rect x="1836.1" y="1559.0" width="16.8" height="16.8" fill="#008000"/>
<rect x="1860.0" y="1554.2" width="16.8" height="16.8" fill="#008000"/>
<rect x="1883.0" y="1549.0" width="16.8" height="16.8" fill="#008000"/>
<rect x="1905.4" y="1544.2" width="16.8" height="16.8" fill="#008000"/>
<rect x="1928.6" y="1538.5" width="16.8" height="16.8" fill="#008000"/>
<rect x="1953.3" y="1532.1" width="16.8" height="16.8" fill="#008000"/>
<rect x="1975.4" y="1525.5" width="16.8" height="16.8" fill="#008000"/>
<rect x="1998.5" y="1517.5" width="16.8" height="16.8" fill="#008000"/>
<rect x="2022.2" y="1508.4" width="16.8" height="16.8" fill="#008000"/>
<rect x="2044.8" y="1496.8" width="16.8" height="16.8" fill="#008000"/>
<rect x="2068.5" y="1483.5" width="16.8" height="16.8" fill="#008000"/>
<rect x="2091.5" y="1467.1" width="16.8" height="16.8" fill="#008000"/>
<rect x="2113.7" y="1445.0" width="16.8" height="16.8" fill="#008000"/>
<rect x="2136.8" y="1416.0" width="16.8" height="16.8" fill="#008000"/>
<rect x="2160.0" y="1373.9" width="16.8" height="16.8" fill="#008000"/>
<rect x="2182.5" y="1312.0" width="16.8" height="16.8" fill="#008000"/>
<rect x="2202.7" y="1239.4" width="16.8" height="16.8" fill="#008000"/>
<rect x="2237.0" y="1111.9" width="16.8" height="16.8" fill="#008000"/>
<rect x="2256.5" y="1062.8" width="16.8" height="16.8" fill="#008000"/>
<rect x="2274.8" y="1029.2" width="16.8" height="16.8" fill="#008000"/>
<rect x="2298.5" y="997.4" width="16.8" height="16.8" fill="#008000"/>
<rect x="2322.6" y="970.2" width="16.8" height="16.8" fill="#008000"/>
<path d="M2304.5 990.3L2301.2 991.9M2280.7 1002.3L2274.3 1005.8M2255.2 1018.3L2253.4 1019.8M2236.8 1035.6L2226.7 1047.2M2214.7 1066.5L2189.8 1126.9M2182.9 1148.7L2161.7 1242.8M2156.2 1265.1L2121.4 1391.8M2113.4 1413.2L2109.3 1421.6M2097.5 1441.2L2077.6 1468.6M2062.4 1485.7L2059.6 1488.4M2041.6 1502.5L2030.5 1509.7M2010.5 1520.9L2000.4 1525.5M1979.2 1534.2L1972.4 1536.6M1950.7 1543.9L1943.9 1546.1M1921.8 1552.3L1915.0 1553.9M1892.7 1559.5L1888.2 1560.7M1865.8 1565.8L1860.3 1566.8M1837.7 1571.1L1830.3 1572.6M1807.7 1576.7L1803.2 1577.4M1780.6 1581.3L1775.3 1582.3M1752.6 1585.9L1747.4 1586.7M1724.6 1590.1L1720.3 1590.8M1697.5 1594.2L1690.4 1595.2M1667.6 1598.4L1662.2 1599.0M1639.4 1602.1L1633.9 1603.0M1611.1 1605.9L1607.4 1606.4M1584.7 1609.7L1577.0 1611.0M1554.3 1614.5L1549.3 1615.2M1526.5 1618.3L1521.3 1619.0" fill="none" stroke="#008000" stroke-width="3.3"/>
<rect x="2323.8" y="971.4" width="14.5" height="14.5" fill="#fff" stroke="#008000" stroke-width="2.3"/>
<rect x="2307.7" y="978.0" width="14.5" height="14.5" fill="#fff" stroke="#008000" stroke-width="2.3"/>
<rect x="2283.6" y="989.6" width="14.5" height="14.5" fill="#fff" stroke="#008000" stroke-width="2.3"/>
<rect x="2256.9" y="1004.0" width="14.5" height="14.5" fill="#fff" stroke="#008000" stroke-width="2.3"/>
<rect x="2237.2" y="1019.7" width="14.5" height="14.5" fill="#fff" stroke="#008000" stroke-width="2.3"/>
<rect x="2211.8" y="1048.7" width="14.5" height="14.5" fill="#fff" stroke="#008000" stroke-width="2.3"/>
<rect x="2178.2" y="1130.2" width="14.5" height="14.5" fill="#fff" stroke="#008000" stroke-width="2.3"/>
<rect x="2151.9" y="1246.8" width="14.5" height="14.5" fill="#fff" stroke="#008000" stroke-width="2.3"/>
<rect x="2111.2" y="1395.7" width="14.5" height="14.5" fill="#fff" stroke="#008000" stroke-width="2.3"/>
<rect x="2097.1" y="1424.7" width="14.5" height="14.5" fill="#fff" stroke="#008000" stroke-width="2.3"/>
<rect x="2063.6" y="1470.7" width="14.5" height="14.5" fill="#fff" stroke="#008000" stroke-width="2.3"/>
<rect x="2043.9" y="1489.0" width="14.5" height="14.5" fill="#fff" stroke="#008000" stroke-width="2.3"/>
<rect x="2013.7" y="1508.8" width="14.5" height="14.5" fill="#fff" stroke="#008000" stroke-width="2.3"/>
<rect x="1982.8" y="1523.2" width="14.5" height="14.5" fill="#fff" stroke="#008000" stroke-width="2.3"/>
<rect x="1954.3" y="1533.2" width="14.5" height="14.5" fill="#fff" stroke="#008000" stroke-width="2.3"/>
<rect x="1925.8" y="1542.3" width="14.5" height="14.5" fill="#fff" stroke="#008000" stroke-width="2.3"/>
<rect x="1896.5" y="1549.3" width="14.5" height="14.5" fill="#fff" stroke="#008000" stroke-width="2.3"/>
<rect x="1869.8" y="1556.3" width="14.5" height="14.5" fill="#fff" stroke="#008000" stroke-width="2.3"/>
<rect x="1841.8" y="1561.8" width="14.5" height="14.5" fill="#fff" stroke="#008000" stroke-width="2.3"/>
<rect x="1811.8" y="1567.5" width="14.5" height="14.5" fill="#fff" stroke="#008000" stroke-width="2.3"/>
<rect x="1784.7" y="1572.2" width="14.5" height="14.5" fill="#fff" stroke="#008000" stroke-width="2.3"/>
<rect x="1756.8" y="1577.0" width="14.5" height="14.5" fill="#fff" stroke="#008000" stroke-width="2.3"/>
<rect x="1728.8" y="1581.2" width="14.5" height="14.5" fill="#fff" stroke="#008000" stroke-width="2.3"/>
<rect x="1701.7" y="1585.2" width="14.5" height="14.5" fill="#fff" stroke="#008000" stroke-width="2.3"/>
<rect x="1671.8" y="1589.7" width="14.5" height="14.5" fill="#fff" stroke="#008000" stroke-width="2.3"/>
<rect x="1643.5" y="1593.2" width="14.5" height="14.5" fill="#fff" stroke="#008000" stroke-width="2.3"/>
<rect x="1615.2" y="1597.3" width="14.5" height="14.5" fill="#fff" stroke="#008000" stroke-width="2.3"/>
<rect x="1588.8" y="1600.5" width="14.5" height="14.5" fill="#fff" stroke="#008000" stroke-width="2.3"/>
<rect x="1558.5" y="1605.8" width="14.5" height="14.5" fill="#fff" stroke="#008000" stroke-width="2.3"/>
<rect x="1530.7" y="1609.5" width="14.5" height="14.5" fill="#fff" stroke="#008000" stroke-width="2.3"/>
<rect x="1502.7" y="1613.3" width="14.5" height="14.5" fill="#fff" stroke="#008000" stroke-width="2.3"/>
<rect x="1484.7" y="1616.5" width="14.5" height="14.5" fill="#fff" stroke="#008000" stroke-width="2.3"/>
<rect x="1463.2" y="1621.3" width="14.5" height="14.5" fill="#fff" stroke="#008000" stroke-width="2.3"/>
<rect x="1448.2" y="1625.5" width="14.5" height="14.5" fill="#fff" stroke="#008000" stroke-width="2.3"/>
<rect x="1436.2" y="1627.8" width="14.5" height="14.5" fill="#fff" stroke="#008000" stroke-width="2.3"/>
</g>
<text transform="translate(81,927.7) rotate(-90)" font-size="67.5" text-anchor="middle">Quantity Adsorbed (cm<tspan font-size="40" dy="-33">3</tspan><tspan dy="33">/g)</tspan></text>
<text x="1376" y="1851" font-size="67.5" text-anchor="middle">Relative pressure (P/P<tspan font-size="40" dy="22.7">0</tspan><tspan dy="-22.7">)</tspan></text>
</svg></body></html>
